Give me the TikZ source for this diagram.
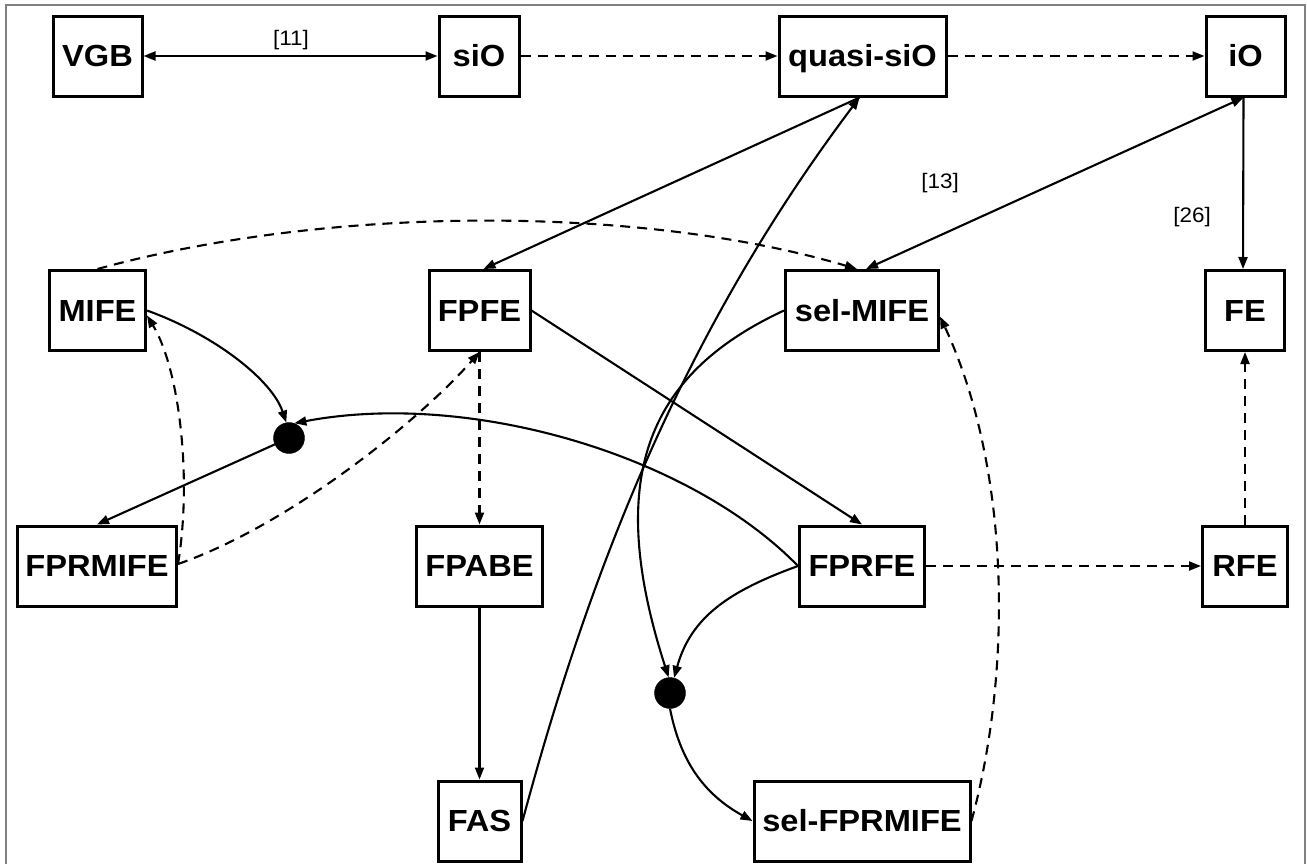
\documentclass[tikz,border=0pt]{standalone}
\usepackage{fontspec}
\setmainfont{Liberation Sans}
\newfontfamily\boxfont{Liberation Sans}[FakeStretch=1.07]
\usetikzlibrary{arrows.meta}
\tikzset{
  box/.style={draw,line width=3pt,inner sep=0pt,minimum height=80pt,text height=21.5pt,text depth=0pt,font=\boxfont\fontsize{30.5}{30.5}\selectfont\bfseries},
  dotnode/.style={circle,fill=black,draw=black,inner sep=0pt,minimum size=31pt},
  conn/.style={line width=2.1pt},
  arr/.style={-{Triangle[length=12pt,width=9pt]}},
  barr/.style={{Triangle[length=12pt,width=9pt]}-{Triangle[length=12pt,width=9pt]}},
  dsh/.style={dash pattern=on 10pt off 7pt},
  lbl/.style={font=\boxfont\fontsize{21}{21}\selectfont,inner sep=0pt},
  frame/.style={draw=gray,line width=1.6pt}
}
\begin{document}
\begin{tikzpicture}[x=1pt,y=-1pt]
\useasboundingbox (0,0) rectangle (1307,863);
\clip (0,0) rectangle (1307,863);
\draw[frame] (6,5) rectangle (1305,890);

\node[box,minimum width=89pt] (VGB) at (97.5,56) {VGB};
\node[box,minimum width=80pt] (siO) at (479,56) {siO};
\node[box,minimum width=167pt] (qsiO) at (862.5,56) {quasi-siO};
\node[box,minimum width=79pt] (iO) at (1245.5,56) {iO};
\node[box,minimum width=96pt] (MIFE) at (97.5,310.5) {MIFE};
\node[box,minimum width=101pt] (FPFE) at (479.5,310.5) {FPFE};
\node[box,minimum width=153pt] (selMIFE) at (862,310.5) {sel-MIFE};
\node[box,minimum width=79pt] (FE) at (1245,310.5) {FE};
\node[box,minimum width=159pt] (FPRMIFE) at (97,566) {FPRMIFE};
\node[box,minimum width=126pt] (FPABE) at (479.5,566) {FPABE};
\node[box,minimum width=125pt] (FPRFE) at (862,566) {FPRFE};
\node[box,minimum width=85pt] (RFE) at (1245,566) {RFE};
\node[box,minimum width=83pt] (FAS) at (479.5,821) {FAS};
\node[box,minimum width=216pt] (selFPRMIFE) at (862,821) {sel-FPRMIFE};
\node[dotnode] (d1) at (289,438) {};
\node[dotnode] (d2) at (670,693) {};

\node[lbl] (l11) at (291,40) {[11]};
\node[lbl] (l13) at (940,183) {[13]};
\node[lbl] (l26) at (1192,217) {[26]};

\draw[conn,barr] (VGB) -- (siO);
\draw[conn,dsh,arr] (siO) -- (qsiO);
\draw[conn,dsh,arr] (qsiO) -- (iO);
\draw[conn,arr] ([xshift=-3pt]qsiO.south) -- ([xshift=4pt]FPFE.north);
\draw[conn,barr] ([xshift=-2pt]iO.south) -- ([xshift=4pt]selMIFE.north);
\draw[conn,arr] ([xshift=-2pt]iO.south) -- ([xshift=-2pt]FE.north);
\draw[conn,dsh,arr] (MIFE.north) .. controls (330,205) and (640,205) .. ([xshift=-5pt]selMIFE.north);
\draw[conn,arr] (MIFE.east) .. controls (215,335) and (272,380) .. (d1.100);
\draw[conn,arr] (FPRFE.west) .. controls (690,455) and (470,390) .. (d1.70);
\draw[conn,arr] (d1) -- (FPRMIFE.north);
\draw[conn,dsh,arr] ([yshift=2pt]FPRMIFE.east) .. controls (192,480) and (180,370) .. ([yshift=-5pt]MIFE.east);
\draw[conn,dsh,arr] ([yshift=2pt]FPRMIFE.east) .. controls (290,525) and (420,420) .. (FPFE.south);
\draw[conn,dsh,arr] (FPFE.south) -- (FPABE.north);
\draw[conn,arr] (FPFE.east) -- (FPRFE.north);
\draw[conn,arr] (FPABE) -- (FAS);
\draw[conn,arr] (FAS.east) .. controls (587,581) and (679,337) .. ([xshift=-3pt]qsiO.south);
\draw[conn,arr] (selMIFE.west) .. controls (645,375) and (605,480) .. (d2.95);
\draw[conn,arr] (FPRFE.west) .. controls (729,591) and (691,617) .. (d2.75);
\draw[conn,arr] (d2.south) .. controls (680,759) and (702,793) .. (selFPRMIFE.west);
\draw[conn,dsh,arr] (selFPRMIFE.east) .. controls (1013,668) and (1010,467) .. ([yshift=-6pt]selMIFE.east);
\draw[conn,dsh,arr] (FPRFE) -- (RFE);
\draw[conn,dsh,arr] (RFE) -- (FE);
\end{tikzpicture}
\end{document}
